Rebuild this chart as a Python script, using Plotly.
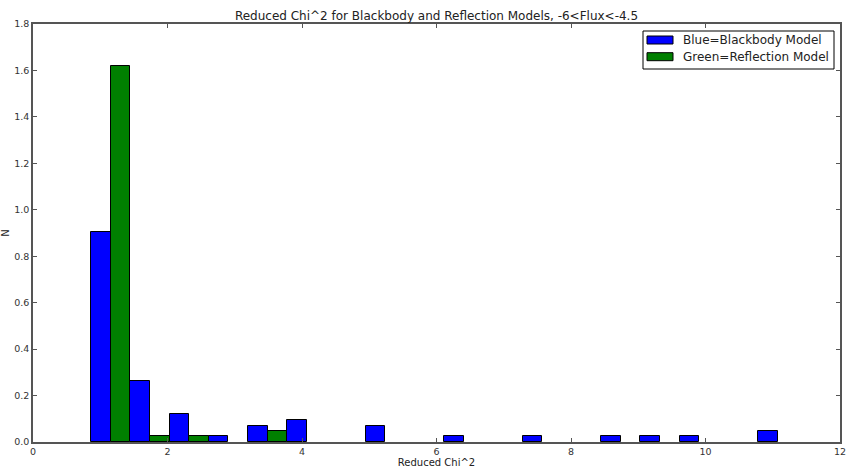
import plotly.graph_objects as go

# Histogram bins
bin_start = 0.863
bin_width = 0.5834
n_bins = 18

# Normalised counts per bin
blackbody = [0.905, 0.262, 0.119, 0.024, 0.071, 0.095, 0.0, 0.071, 0.0,
             0.024, 0.0, 0.024, 0.0, 0.024, 0.024, 0.024, 0.0, 0.048]
reflection = [1.619, 0.024, 0.024, 0.0, 0.048, 0.0, 0.0, 0.0, 0.0,
              0.0, 0.0, 0.0, 0.0, 0.0, 0.0, 0.0, 0.0, 0.0]

series_names = ["Blue=Blackbody Model", "Green=Reflection Model"]
series_colors = ["#0000ff", "#008000"]

x_ticks = [0, 2, 4, 6, 8, 10, 12]
y_ticks = [0.0, 0.2, 0.4, 0.6, 0.8, 1.0, 1.2, 1.4, 1.6, 1.8]

centers = [bin_start + (i + 0.5) * bin_width for i in range(n_bins)]


def drawn(vals):
    # empty bins draw nothing (no zero-height outline on the axis)
    return [v if v > 0 else None for v in vals]


FONT = "DejaVu Sans"
AX = "#555555"
TXT = "#333333"

W, H = 848, 468
ML, MR, MT, MB = 33, 8, 24, 26
PW, PH = W - ML - MR, H - MT - MB


def px_x(p):
    return (p - ML) / PW


def px_y(p):
    return (H - MB - p) / PH


fig = go.Figure()
for vals, name, col in zip([blackbody, reflection], series_names, series_colors):
    fig.add_trace(go.Bar(x=centers, y=drawn(vals), name=name, showlegend=False,
                         marker=dict(color=col, line=dict(color="black", width=1))))

# matplotlib-style legend box
shapes = [dict(type="rect", xref="paper", yref="paper",
               x0=px_x(643), x1=px_x(834), y0=px_y(69), y1=px_y(31),
               fillcolor="white", line=dict(color="black", width=1), layer="above")]
annotations = []
for i, (name, col) in enumerate(zip(series_names, series_colors)):
    cy = 40 + i * 16.7
    shapes.append(dict(type="rect", xref="paper", yref="paper",
                       x0=px_x(647), x1=px_x(673), y0=px_y(cy + 4), y1=px_y(cy - 4),
                       fillcolor=col, line=dict(color="black", width=1), layer="above"))
    annotations.append(dict(text=name, xref="paper", yref="paper",
                            x=px_x(681), y=px_y(cy), xanchor="left", yanchor="middle",
                            showarrow=False,
                            font=dict(family=FONT, size=12, color="#222222")))

axis_common = dict(showline=True, linecolor=AX, linewidth=1.5, mirror="ticks",
                   ticks="inside", ticklen=4, tickcolor=AX, tickwidth=1,
                   showgrid=False, zeroline=False, automargin=False,
                   tickfont=dict(family=FONT, size=9.5, color=TXT))

fig.update_layout(
    template="none",
    width=W, height=H,
    margin=dict(l=ML, r=MR, t=MT, b=MB, pad=0),
    paper_bgcolor="white", plot_bgcolor="white",
    barmode="group", bargap=0, bargroupgap=0,
    font=dict(family=FONT, color=TXT),
    title=dict(text="Reduced Chi^2 for Blackbody and Reflection Models, -6<Flux<-4.5",
               x=0.5, xref="paper", xanchor="center",
               y=1 - 16 / H, yref="container", yanchor="middle",
               font=dict(family=FONT, size=12, color="#222222")),
    xaxis=dict(range=[0, 12], tickvals=x_ticks, ticktext=[str(v) for v in x_ticks],
               title=dict(text="Reduced Chi^2", font=dict(family=FONT, size=10, color="#222222"),
                          standoff=0),
               **axis_common),
    yaxis=dict(range=[0, 1.8], tickvals=y_ticks, ticktext=[f"{v:.1f}" for v in y_ticks],
               title=dict(text="N", font=dict(family=FONT, size=10, color="#222222"),
                          standoff=6),
               **axis_common),
    shapes=shapes,
    annotations=annotations,
    showlegend=False,
)

fig.write_html("out.html")
